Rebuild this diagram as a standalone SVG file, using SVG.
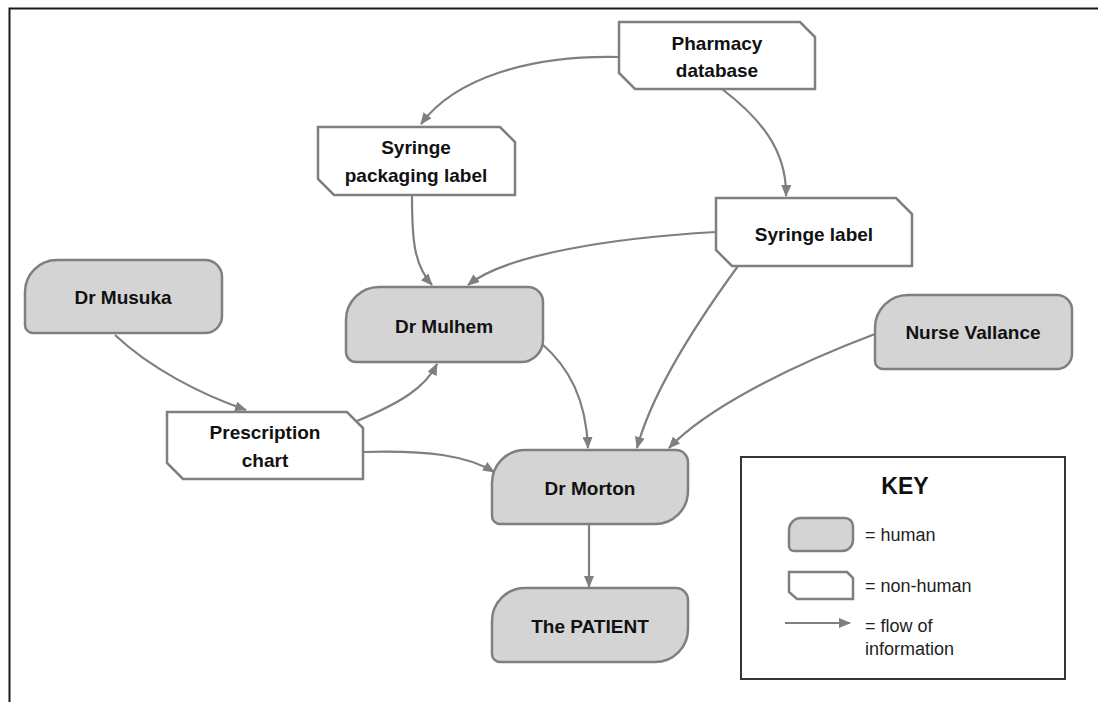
<svg xmlns="http://www.w3.org/2000/svg" width="1098" height="702" viewBox="0 0 1098 702">
  <style>
    .human { fill: #d4d4d4; stroke: #7f7f7f; stroke-width: 2.5; }
    .thing { fill: #ffffff; stroke: #7f7f7f; stroke-width: 2.5; }
    .lbl { font-family: "Liberation Sans", Arial, sans-serif; font-weight: bold; font-size: 19px; fill: #111; text-anchor: middle; }
    .flow { fill: none; stroke: #7f7f7f; stroke-width: 2.2; marker-end: url(#arrow); }
    .key { font-family: "Liberation Sans", Arial, sans-serif; font-size: 18px; fill: #222; }
  </style>
  <defs>
    <marker id="arrow" markerUnits="userSpaceOnUse" markerWidth="12" markerHeight="10" refX="11" refY="5" orient="auto">
      <path d="M0,0 L12,5 L0,10 Z" fill="#7f7f7f"/>
    </marker>
  </defs>

  <rect width="1098" height="702" fill="#ffffff"/>
  <!-- page frame -->
  <path d="M9.5,702 V8.5 H1098" fill="none" stroke="#1a1a1a" stroke-width="2"/>

  <!-- connectors -->
  <g id="connectors">
    <path class="flow" d="M619,57 C530,55 455,78 421,124"/>
    <path class="flow" d="M722,89 C760,118 787,150 786,196"/>
    <path class="flow" d="M412,196 C412,240 414,265 432,285"/>
    <path class="flow" d="M716,232 C610,238 505,255 468,285"/>
    <path class="flow" d="M738,266 C695,325 652,392 637,448"/>
    <path class="flow" d="M541,343 C570,368 586,400 588,448"/>
    <path class="flow" d="M875,334 C785,368 705,410 669,448"/>
    <path class="flow" d="M115,335 C150,368 200,394 246,410"/>
    <path class="flow" d="M357,421 C400,403 425,388 437,364"/>
    <path class="flow" d="M363,452 C430,450 468,456 494,472"/>
    <path class="flow" d="M589,524 V587"/>
  </g>

  <g id="pharmacy-database">
    <polygon class="thing" points="619,22 800,22 815,37 815,89 635,89 619,73"/>
    <text class="lbl" x="717" y="50">Pharmacy</text>
    <text class="lbl" x="717" y="77">database</text>
  </g>

  <g id="syringe-packaging-label">
    <polygon class="thing" points="318,127 500,127 515,142 515,195 334,195 318,179"/>
    <text class="lbl" x="416" y="154">Syringe</text>
    <text class="lbl" x="416" y="182">packaging label</text>
  </g>

  <g id="syringe-label">
    <polygon class="thing" points="716,198 896,198 912,214 912,266 732,266 716,250"/>
    <text class="lbl" x="814" y="241">Syringe label</text>
  </g>

  <g id="prescription-chart">
    <polygon class="thing" points="167,412 347,412 363,428 363,479 183,479 167,463"/>
    <text class="lbl" x="265" y="439">Prescription</text>
    <text class="lbl" x="265" y="467">chart</text>
  </g>

  <g id="dr-musuka">
    <path class="human" d="M25,292 A32,32 0 0 1 57,260 H205 A17,17 0 0 1 222,277 V316 A17,17 0 0 1 205,333 H33 A8,8 0 0 1 25,325 Z"/>
    <text class="lbl" x="123" y="304">Dr Musuka</text>
  </g>

  <g id="dr-mulhem">
    <path class="human" d="M346,320 A33,33 0 0 1 379,287 H528 A15,15 0 0 1 543,302 V340 A22,22 0 0 1 521,362 H356 A10,10 0 0 1 346,352 Z"/>
    <text class="lbl" x="444" y="333">Dr Mulhem</text>
  </g>

  <g id="nurse-vallance">
    <path class="human" d="M875,328 A33,33 0 0 1 908,295 H1057 A15,15 0 0 1 1072,310 V354 A15,15 0 0 1 1057,369 H883 A8,8 0 0 1 875,361 Z"/>
    <text class="lbl" x="973" y="339">Nurse Vallance</text>
  </g>

  <g id="dr-morton">
    <path class="human" d="M492,483 A33,33 0 0 1 525,450 H676 A12,12 0 0 1 688,462 V491 A33,33 0 0 1 655,524 H500 A8,8 0 0 1 492,516 Z"/>
    <text class="lbl" x="590" y="495">Dr Morton</text>
  </g>

  <g id="the-patient">
    <path class="human" d="M492,621 A33,33 0 0 1 525,588 H676 A12,12 0 0 1 688,600 V629 A33,33 0 0 1 655,662 H500 A8,8 0 0 1 492,654 Z"/>
    <text class="lbl" x="590" y="633">The PATIENT</text>
  </g>

  <!-- legend -->
  <g id="key">
    <rect x="741" y="457" width="324" height="222" fill="#ffffff" stroke="#333" stroke-width="2"/>
    <text x="905" y="494" font-family="'Liberation Sans', Arial, sans-serif" font-weight="bold" font-size="23" fill="#111" text-anchor="middle">KEY</text>
    <path class="human" d="M789,530 A12,12 0 0 1 801,518 H845 A8,8 0 0 1 853,526 V540 A11,11 0 0 1 842,551 H794 A5,5 0 0 1 789,546 Z"/>
    <text class="key" x="865" y="541">= human</text>
    <polygon class="thing" points="789,572 847,572 853,578 853,599 797,599 789,592"/>
    <text class="key" x="865" y="592">= non-human</text>
    <path class="flow" d="M785,623 H850"/>
    <text class="key" x="865" y="632">= flow of</text>
    <text class="key" x="865" y="655">information</text>
  </g>
</svg>
